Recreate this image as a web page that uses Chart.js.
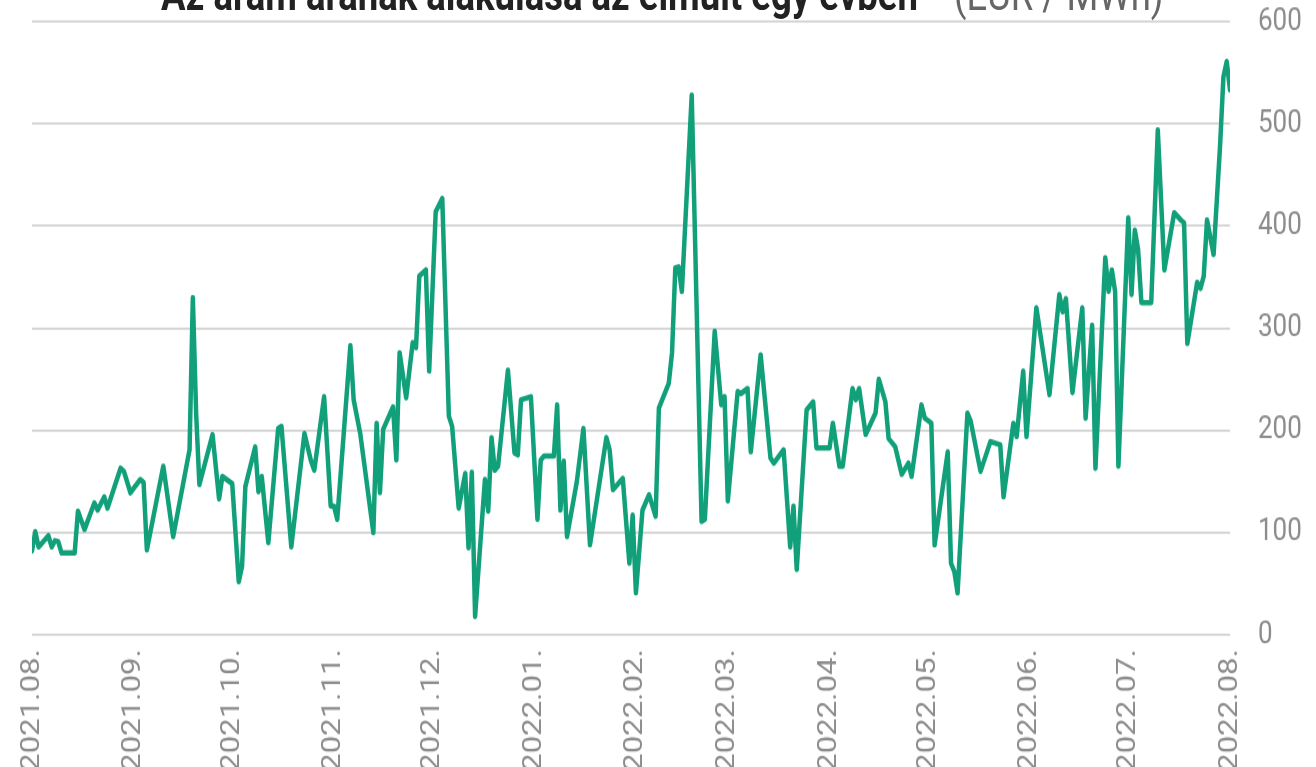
<!DOCTYPE html>
<html lang="hu">
<head>
<meta charset="utf-8">
<title>Az áram árának alakulása</title>
<script src="https://cdn.jsdelivr.net/npm/chart.js@4.4.0/dist/chart.umd.min.js"></script>
<style>
  html, body { margin: 0; padding: 0; background: #fff; overflow: hidden; }
  /* the source picture is stretched vertically: the chart is drawn at
     1316x639 and the canvas itself is stretched by 1.2 */
  #box { position: absolute; left: 0; top: 0; width: 1316px; height: 639px; }
  #priceChart { transform: scaleY(1.2); transform-origin: 0 0; }
  #title {
    position: absolute;
    left: 161px;
    top: -26px;
    transform: scaleY(1.2);
    transform-origin: 0 0;
    font-family: Roboto, sans-serif;
    font-size: 36.5px;
    line-height: 36px;
    white-space: nowrap;
    color: #222;
  }
  #title b { font-weight: 700; }
  #title span { color: #666; font-weight: 400; margin-left: 36px; }
</style>
</head>
<body>
<div id="box"><canvas id="priceChart"></canvas></div>
<div id="title"><b>Az áram árának alakulása az elmúlt egy évben</b><span>(EUR / MWh)</span></div>
<script>
// ============================================================
// DATA (day offset from 2021.08.01, price in EUR / MWh)
// ============================================================

const monthLabels = ['2021.08.', '2021.09.', '2021.10.', '2021.11.', '2021.12.', '2022.01.',
  '2022.02.', '2022.03.', '2022.04.', '2022.05.', '2022.06.', '2022.07.', '2022.08.'];
const monthDays = [0, 31, 61, 92, 122, 153, 184, 212, 243, 273, 304, 334, 365];

const yTicks = [0, 100, 200, 300, 400, 500, 600];

const days = [
  0, 1, 2, 5, 6, 7, 8, 9, 13, 14, 16, 19, 20, 22, 23, 27, 28, 30, 33, 34, 35, 40, 43, 48, 49, 50,
  51, 55, 57, 58, 61, 63, 64, 65, 68, 69, 70, 72, 75, 76, 79, 83, 85, 86, 89, 91, 92, 93, 97, 98,
  100, 104, 105, 106, 107, 110, 111, 112, 114, 116, 117, 118, 120, 121, 123, 125, 127, 128, 130,
  132, 133, 134, 135, 138, 139, 140, 141, 142, 145, 147, 148, 149, 152, 154, 155, 156, 159, 160,
  161, 162, 163, 166, 168, 170, 175, 176, 177, 180, 182, 183, 184, 186, 188, 190, 191, 194, 195,
  196, 197, 198, 201, 204, 205, 208, 210, 211, 212, 215, 216, 218, 219, 222, 225, 226, 229, 231,
  232, 233, 236, 238, 239, 243, 244, 246, 247, 250, 251, 252, 254, 257, 258, 260, 261, 263, 265,
  267, 268, 271, 272, 274, 275, 279, 280, 281, 282, 285, 286, 289, 292, 293, 295, 296, 299, 300,
  302, 303, 306, 310, 313, 314, 315, 317, 320, 321, 323, 324, 327, 328, 329, 330, 331, 334, 335,
  336, 337, 338, 341, 343, 345, 348, 350, 351, 352, 355, 356, 357, 358, 360, 362, 363, 364, 365
];

const prices = [
  82, 101, 86, 97, 86, 92, 91, 80, 80, 121, 103, 129, 122, 135, 124, 163, 160, 139, 152, 149, 83,
  165, 96, 181, 330, 217, 147, 196, 133, 155, 148, 52, 67, 145, 184, 140, 155, 90, 202, 204, 86,
  197, 170, 161, 233, 126, 126, 113, 283, 230, 197, 100, 207, 139, 201, 223, 171, 276, 232, 286,
  281, 351, 357, 258, 414, 427, 214, 204, 124, 158, 85, 159, 18, 152, 121, 193, 161, 165, 259,
  178, 176, 230, 233, 113, 171, 175, 175, 225, 122, 170, 96, 150, 202, 88, 193, 181, 142, 153,
  70, 117, 41, 122, 137, 116, 222, 246, 276, 359, 360, 336, 528, 111, 113, 297, 225, 233, 131,
  238, 236, 241, 179, 274, 173, 168, 181, 86, 126, 64, 220, 228, 183, 183, 207, 165, 165, 241,
  230, 241, 196, 217, 250, 228, 192, 184, 157, 168, 155, 225, 212, 207, 88, 179, 70, 62, 41, 217,
  209, 160, 189, 188, 186, 135, 207, 194, 258, 194, 320, 235, 333, 316, 329, 237, 320, 212, 303,
  163, 369, 336, 357, 336, 165, 408, 333, 396, 377, 325, 325, 494, 357, 413, 406, 403, 285, 345,
  339, 351, 406, 372, 480, 546, 561, 533
];

// ============================================================
// STYLE
// ============================================================

const LINE_COLOR = '#11a07a';
const GRID_COLOR = '#d2d2d2';
const TICK_COLOR = '#8c8c8c';

// ============================================================
// CHART
// ============================================================

const points = days.map((d, i) => ({ x: d, y: prices[i] }));

new Chart(document.getElementById('priceChart').getContext('2d'), {
  type: 'line',
  data: {
    datasets: [{
      data: points,
      borderColor: LINE_COLOR,
      borderWidth: 4.5,
      borderJoinStyle: 'round',
      borderCapStyle: 'round',
      pointRadius: 0,
      tension: 0,
      fill: false
    }]
  },
  options: {
    responsive: true,
    maintainAspectRatio: false,
    animation: false,
    layout: { padding: { top: 18, left: 32 } },
    plugins: {
      legend: { display: false },
      tooltip: { enabled: false }
    },
    scales: {
      x: {
        type: 'linear',
        min: monthDays[0],
        max: monthDays[monthDays.length - 1],
        afterBuildTicks: axis => { axis.ticks = monthDays.map(v => ({ value: v })); },
        afterFit: axis => { axis.height = 110; },
        grid: { display: false, drawTicks: false },
        border: { display: false },
        ticks: {
          autoSkip: false,
          minRotation: 90,
          maxRotation: 90,
          padding: 12,
          color: TICK_COLOR,
          font: { family: 'Roboto', size: 26 },
          callback: v => monthLabels[monthDays.indexOf(v)]
        }
      },
      y: {
        position: 'right',
        min: yTicks[0],
        max: yTicks[yTicks.length - 1],
        afterBuildTicks: axis => { axis.ticks = yTicks.map(v => ({ value: v })); },
        afterFit: axis => { axis.width = 86; },
        grid: { color: GRID_COLOR, lineWidth: 1.7, drawTicks: true, tickLength: 28, tickColor: 'rgba(0,0,0,0)' },
        border: { display: false },
        ticks: {
          padding: 0,
          color: TICK_COLOR,
          font: { family: 'Roboto', size: 26 }
        }
      }
    }
  }
});
</script>
</body>
</html>
